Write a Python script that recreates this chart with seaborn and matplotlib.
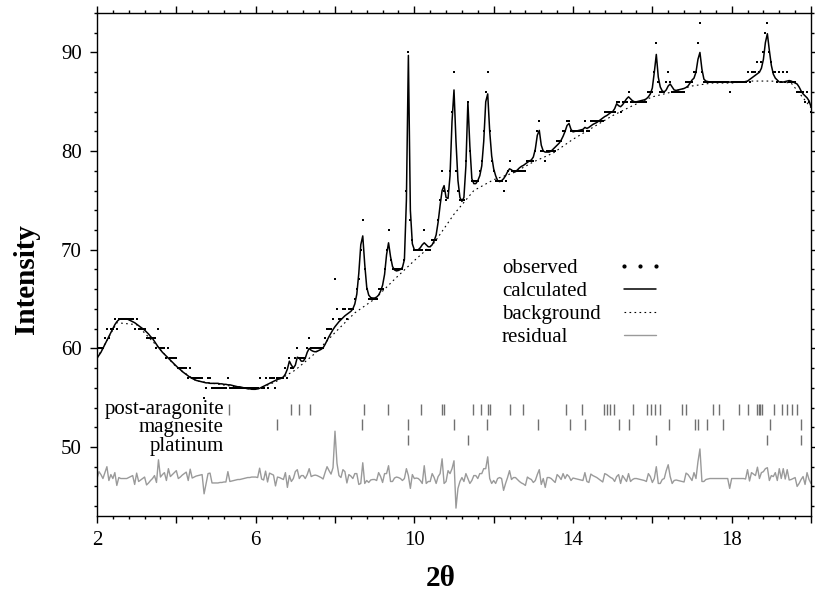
import numpy as np
import matplotlib
matplotlib.use("Agg")
import matplotlib.pyplot as plt
from matplotlib.lines import Line2D
from matplotlib.ticker import MultipleLocator, FuncFormatter
import seaborn as sns

# scan grid: 2.00 .. 20.00 deg, 0.05 step (361 points)
two_theta = np.linspace(2.0, 20.0, 361)

# observed counts, one line per degree (20 steps each)
observed = [
    59, 60, 60, 60, 61, 62, 61, 62, 62, 63, 62, 63, 63, 63, 63, 63, 63, 63, 63, 62,
    63, 62, 62, 62, 62, 61, 61, 61, 61, 61, 60, 62, 60, 60, 60, 59, 60, 59, 59, 59,
    59, 58, 58, 58, 58, 58, 57, 58, 57, 57, 57, 57, 57, 57, 55, 56, 57, 57, 56, 56,
    56, 56, 56, 56, 56, 56, 57, 56, 56, 56, 56, 56, 56, 56, 56, 56, 56, 56, 56, 56,
    56, 56, 57, 56, 56, 57, 56, 57, 57, 57, 56, 57, 57, 57, 57, 58, 57, 59, 58, 58,
    59, 60, 59, 59, 59, 59, 60, 61, 60, 60, 60, 60, 60, 60, 60, 61, 62, 62, 62, 63,
    67, 64, 63, 63, 64, 64, 63, 64, 64, 64, 65, 66, 67, 70, 73, 68, 66, 65, 65, 65,
    65, 65, 66, 66, 66, 68, 70, 72, 69, 68, 68, 68, 68, 68, 68, 69, 76, 90, 73, 71,
    70, 70, 70, 70, 70, 72, 70, 70, 70, 71, 71, 71, 73, 75, 78, 76, 75, 76, 78, 84,
    88, 78, 76, 75, 75, 75, 79, 85, 80, 77, 77, 77, 77, 78, 79, 82, 86, 88, 82, 79,
    78, 77, 77, 77, 77, 76, 77, 78, 79, 78, 78, 78, 78, 78, 78, 78, 78, 79, 79, 79,
    79, 80, 82, 83, 80, 80, 79, 80, 80, 80, 80, 80, 81, 81, 81, 82, 82, 83, 83, 82,
    82, 82, 82, 82, 82, 82, 83, 82, 82, 83, 83, 83, 83, 83, 83, 83, 84, 84, 84, 84,
    84, 84, 85, 85, 84, 85, 85, 85, 86, 85, 85, 85, 85, 85, 85, 85, 85, 85, 86, 86,
    86, 88, 91, 87, 86, 86, 86, 87, 88, 87, 86, 86, 86, 86, 86, 86, 86, 87, 87, 87,
    87, 88, 88, 91, 93, 88, 87, 87, 87, 87, 87, 87, 87, 87, 87, 87, 87, 87, 87, 86,
    87, 87, 87, 87, 87, 87, 87, 87, 88, 87, 88, 88, 88, 89, 88, 89, 90, 92, 93, 90,
    89, 88, 88, 87, 88, 87, 88, 87, 88, 87, 87, 87, 87, 86, 86, 86, 86, 85, 86, 85,
    84,
]

# calculated profile on the same grid
calculated = [
    59.0, 59.3, 59.6, 60.0, 60.4, 60.8, 61.2, 61.6, 62.0, 62.4, 62.7, 62.9, 63.0, 63.0, 63.0, 63.0, 62.9, 62.8, 62.7, 62.6,
    62.45, 62.3, 62.15, 62.0, 61.85, 61.65, 61.45, 61.2, 61.0, 60.7, 60.4, 60.1, 59.85, 59.6, 59.4, 59.2, 59.0, 58.8, 58.6, 58.4,
    58.2, 58.0, 57.85, 57.65, 57.5, 57.35, 57.2, 57.05, 56.95, 56.85, 56.75, 56.7, 56.65, 56.6, 56.55, 56.5, 56.5, 56.45, 56.45, 56.45,
    56.45, 56.45, 56.4, 56.4, 56.35, 56.35, 56.3, 56.3, 56.25, 56.2, 56.15, 56.1, 56.1, 56.05, 56.0, 55.95, 55.9, 55.9, 55.85, 55.85,
    55.85, 55.9, 55.95, 56.05, 56.15, 56.25, 56.35, 56.45, 56.55, 56.65, 56.75, 56.85, 56.9, 57.0, 57.1, 57.4, 57.9, 58.7, 58.3, 58.0,
    58.3, 59.1, 59.0, 58.7, 58.7, 59.0, 59.6, 60.0, 59.8, 59.7, 59.65, 59.7, 59.8, 59.9, 60.05, 60.4, 60.8, 61.2, 61.55, 61.9,
    62.2, 62.45, 62.7, 62.9, 63.1, 63.3, 63.45, 63.6, 63.75, 64.0, 64.5, 65.5, 67.6, 70.5, 71.4, 68.5, 66.2, 65.4, 65.15, 65.1,
    65.1, 65.2, 65.4, 65.8, 66.4, 67.5, 69.5, 70.7, 69.3, 68.3, 67.95, 67.85, 67.9, 68.0, 68.2, 69.0, 75.0, 89.7, 74.0, 70.6,
    70.0, 69.95, 70.0, 70.2, 70.5, 70.7, 70.5, 70.3, 70.3, 70.5, 70.9, 71.5, 72.8, 74.5, 76.0, 76.5, 75.3, 75.2, 77.5, 83.0,
    86.2, 81.0, 77.0, 75.3, 74.9, 75.3, 78.5, 85.0, 80.5, 77.2, 76.7, 76.7, 77.0, 77.5, 78.5, 81.0, 85.0, 85.8, 82.0, 79.5,
    78.2, 77.5, 77.0, 76.9, 77.0, 77.2, 77.5, 77.9, 78.2, 78.1, 77.9, 77.9, 78.1, 78.3, 78.45, 78.55, 78.7, 78.85, 79.0, 79.1,
    79.4, 80.2, 81.6, 82.1, 80.6, 80.0, 79.9, 79.9, 79.9, 80.0, 80.2, 80.4, 80.6, 80.8, 81.1, 81.5, 82.0, 82.6, 82.8, 82.2,
    81.95, 82.0, 82.05, 82.1, 82.15, 82.2, 82.4, 82.3, 82.4, 82.55, 82.7, 82.8, 82.9, 83.05, 83.2, 83.35, 83.5, 83.6, 83.75, 83.9,
    84.0, 84.3, 84.8, 84.6, 84.5, 84.7, 85.0, 85.3, 85.5, 85.3, 85.1, 85.0, 85.0, 85.05, 85.1, 85.15, 85.2, 85.3, 85.5, 85.8,
    86.4, 88.0, 89.8, 87.5, 86.5, 86.1, 86.0, 86.2, 86.6, 86.8, 86.5, 86.2, 86.15, 86.2, 86.25, 86.3, 86.35, 86.45, 86.6, 86.9,
    87.2, 87.4, 88.0, 89.3, 90.0, 88.3, 87.3, 87.1, 87.05, 87.0, 87.0, 87.0, 87.0, 87.0, 87.0, 87.0, 87.0, 87.0, 87.0, 87.0,
    87.0, 87.0, 87.0, 87.0, 87.0, 87.0, 87.0, 87.05, 87.1, 87.25, 87.4, 87.55, 87.7, 87.85, 88.0, 88.4, 89.3, 91.0, 91.9, 90.2,
    88.7, 87.8, 87.4, 87.2, 87.0, 87.0, 87.0, 87.05, 87.1, 87.15, 87.1, 87.0, 86.9, 86.8, 86.5, 86.1, 85.8, 85.6, 85.4, 85.1,
    84.5,
]

# background, read every 0.5 deg
bg_theta = np.linspace(2.0, 20.0, 37)
background = [
    59.0, 62.6, 62.4, 60.3, 58.1, 56.7, 56.4, 56.1, 55.8, 56.6, 57.8, 59.5,
    61.6, 63.6, 65.0, 67.0, 68.9, 70.7, 73.6, 76.0, 77.1, 77.8, 78.9, 79.8,
    81.2, 82.4, 83.6, 84.6, 85.5, 86.0, 86.6, 86.9, 86.9, 87.1, 87.1, 86.9, 84.4,
]

resid_offset = 46.8

# reflection positions (2theta) for each phase
post_aragonite = [5.34, 6.89, 7.09, 7.37, 8.72, 9.33, 10.16, 10.69, 10.76, 11.49, 11.68,
                  11.85, 11.91, 12.42, 12.74, 13.83, 14.22, 14.77, 14.86, 14.94, 15.03,
                  15.51, 15.86, 15.96, 16.07, 16.2, 16.75, 16.85, 17.52, 17.67, 18.18,
                  18.4, 18.64, 18.68, 18.72, 18.76, 19.06, 19.27, 19.39, 19.52, 19.65]
magnesite = [6.55, 8.68, 9.83, 11.0, 11.83, 13.13, 13.93, 14.31, 15.15, 15.42, 16.43,
             17.08, 17.16, 17.39, 17.78, 18.97, 19.75]
platinum = [9.83, 11.35, 16.1, 18.89, 19.75]
phases = ["post-aragonite", "magnesite", "platinum"]

sns.set_style("ticks")
plt.rcParams["font.family"] = ["Liberation Serif", "DejaVu Serif"]
plt.rcParams.update({
    "text.color": "k", "axes.labelcolor": "k", "axes.edgecolor": "k",
    "xtick.color": "k", "ytick.color": "k",
})

obs = np.array(observed, dtype=float)
calc = np.array(calculated)
residual = obs - calc + resid_offset

fig = plt.figure(figsize=(8.15, 5.94), dpi=100)
ax = fig.add_axes([0.119, 0.1313, 0.8761, 0.8468])

sns.lineplot(x=bg_theta, y=background, ax=ax, color="k", lw=0.8,
             linestyle=(0, (1.5, 3)), estimator=None, sort=False)
sns.lineplot(x=two_theta, y=calc, ax=ax, color="k", lw=1.1, estimator=None, sort=False)
sns.scatterplot(x=two_theta, y=obs, ax=ax, color="k", s=4, marker="s", linewidth=0)
sns.lineplot(x=two_theta, y=residual, ax=ax, color="#9a9a9a", lw=1.0, estimator=None, sort=False)

# phase reflection markers, one row per phase
ax.vlines(post_aragonite, 53.25, 54.4, color="#707070", lw=1.0)
ax.vlines(magnesite, 51.7, 52.8, color="#707070", lw=1.0)
ax.vlines(platinum, 50.15, 51.25, color="#707070", lw=1.0)
ax.text(5.2, 51.95, "\n".join(phases), ha="right", va="center",
        multialignment="right", linespacing=0.98, fontsize=15)

ax.set_xlim(2, 20)
ax.set_ylim(43, 94)
ax.xaxis.set_major_locator(MultipleLocator(2))
ax.xaxis.set_minor_locator(MultipleLocator(0.4))
ax.xaxis.set_major_formatter(FuncFormatter(lambda v, p: f"{v:.0f}" if round(v) % 4 == 2 else ""))
ax.yaxis.set_major_locator(MultipleLocator(10))
ax.yaxis.set_minor_locator(MultipleLocator(2))
ax.tick_params(which="both", direction="out", top=True, right=True, width=1.0, labelsize=15)
ax.tick_params(which="major", length=5)
ax.tick_params(which="minor", length=2.5)
ax.tick_params(axis="y", pad=6)
ax.tick_params(axis="x", pad=6)
for sp in ax.spines.values():
    sp.set_linewidth(1.0)

ax.set_xlabel("2θ", fontsize=21, fontweight="bold")
ax.xaxis.set_label_coords(0.481, -0.098)
ax.set_ylabel("Intensity", fontsize=21, fontweight="bold")
ax.yaxis.set_label_coords(-0.080, 0.471)

# legend: labels on the left, keys in a column to the right
labels = ["observed", "calculated", "background", "residual"]
blank = [Line2D([], [], linestyle="none") for _ in labels]
leg1 = ax.legend(blank, labels, loc="upper left", bbox_to_anchor=(0.567, 0.512),
                 frameon=False, handlelength=0, handletextpad=0, borderpad=0,
                 borderaxespad=0, labelspacing=0.17, fontsize=15)
ax.add_artist(leg1)
keys = [
    Line2D([], [], linestyle="none", marker="o", ms=2, color="k"),
    Line2D([], [], color="k", lw=1.1),
    Line2D([], [], color="k", lw=0.8, linestyle=(0, (1.5, 3))),
    Line2D([], [], color="#9a9a9a", lw=1.0),
]
ax.legend(keys, [""] * 4, loc="upper left", bbox_to_anchor=(0.73, 0.512),
          frameon=False, handlelength=2.1, handletextpad=0, borderpad=0,
          borderaxespad=0, labelspacing=0.17, numpoints=3, fontsize=15)

fig.savefig("out.png", dpi=100)
